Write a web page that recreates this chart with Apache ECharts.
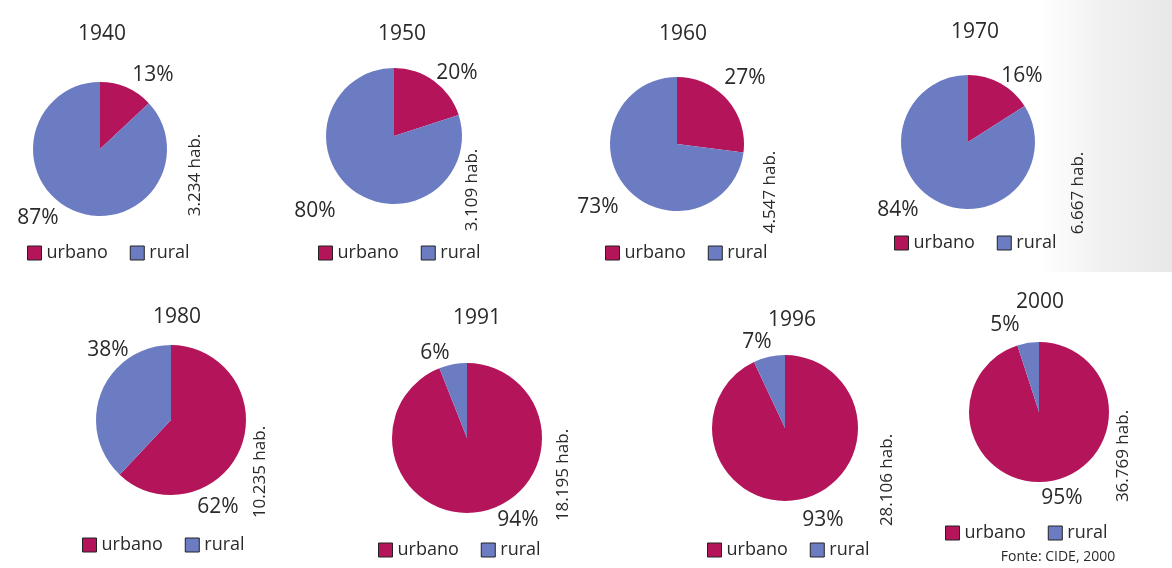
<!DOCTYPE html>
<html>
<head>
    <meta charset="utf-8">
    <title>População urbana e rural</title>
    <script src="https://cdn.jsdelivr.net/npm/echarts@6/dist/echarts.min.js"></script>
    <style>
        html, body { margin: 0; padding: 0; background: #fff; }
        #main { width: 1172px; height: 568px; }
    </style>
</head>
<body>
<div id="main"></div>
<script>
    // dados
    var anos = ['1940', '1950', '1960', '1970', '1980', '1991', '1996', '2000'];
    var urbano = [13, 20, 27, 16, 62, 94, 93, 95];
    var rural = [87, 80, 73, 84, 38, 6, 7, 5];
    var totais = ['3.234 hab.', '3.109 hab.', '4.547 hab.', '6.667 hab.', '10.235 hab.', '18.195 hab.', '28.106 hab.', '36.769 hab.'];
    var categorias = ['urbano', 'rural'];

    // layout (px)
    var centros = [[100, 149], [394, 136], [677, 144], [968, 142], [171, 420], [467, 438], [785, 428], [1039, 412]];
    var raios = [67, 68, 67, 67, 75, 75, 73, 70];
    var posTitulo = [[97, 32], [397, 32], [678, 32], [970, 30], [172, 315], [472, 316], [787, 318], [1035, 300]];
    var posUrb = [[153, 75], [457, 73], [745, 78], [1022, 76], [218, 507], [518, 520], [823, 520], [1062, 498]];
    var posRur = [[38, 218], [315, 211], [598, 207], [898, 210], [108, 350], [435, 353], [757, 342], [1005, 325]];
    var posLegenda = [[22, 248], [313, 248], [600, 248], [889, 238], [77, 540], [373, 545], [702, 545], [940, 528]];
    var posTotal = [[195, 175], [472, 190], [770, 192], [1078, 193], [260, 472], [563, 475], [887, 480], [1123, 456]];

    var cores = ['#b3145a', '#6c7cc2'];
    var fonte = '"Open Sans", "DejaVu Sans", sans-serif';

    var myChart = echarts.init(document.getElementById('main'));

    var titulos = [], legendas = [], series = [], graficos = [];

    // fundo cinza do scan (canto superior direito)
    graficos.push({
        type: 'rect', silent: true, z: -10,
        shape: {x: 1040, y: 0, width: 132, height: 272},
        style: {
            fill: new echarts.graphic.LinearGradient(0, 0, 1, 0, [
                {offset: 0, color: 'rgba(236,236,236,0)'},
                {offset: 0.5, color: 'rgba(236,236,236,0.8)'},
                {offset: 1, color: 'rgba(232,232,232,1)'}
            ])
        }
    });

    for (var i = 0; i < anos.length; i++) {
        titulos.push({
            text: anos[i],
            left: posTitulo[i][0],
            top: posTitulo[i][1] - 13,
            textAlign: 'center',
            textStyle: {fontFamily: fonte, fontSize: 21, fontWeight: 'normal', color: '#2a2a2a'}
        });

        legendas.push({
            data: categorias,
            left: posLegenda[i][0],
            top: posLegenda[i][1] - 9,
            icon: 'rect',
            itemWidth: 14,
            itemHeight: 14,
            itemGap: 22,
            selectedMode: false,
            itemStyle: {borderColor: '#222', borderWidth: 1},
            textStyle: {fontFamily: fonte, fontSize: 18, color: '#2a2a2a'}
        });

        (function (idx) {
            series.push({
                type: 'pie',
                name: anos[idx],
                center: centros[idx],
                radius: raios[idx],
                startAngle: 90,
                clockwise: true,
                silent: true,
                animation: false,
                data: [
                    {name: categorias[0], value: urbano[idx], itemStyle: {color: cores[0]}},
                    {name: categorias[1], value: rural[idx], itemStyle: {color: cores[1]}}
                ],
                label: {
                    show: true,
                    position: 'outside',
                    formatter: '{c}%',
                    overflow: 'none',
                    fontFamily: fonte,
                    fontSize: 21,
                    color: '#2a2a2a'
                },
                labelLine: {show: false},
                labelLayout: function (params) {
                    var p = params.dataIndex === 0 ? posUrb[idx] : posRur[idx];
                    return {x: p[0], y: p[1], align: 'center', verticalAlign: 'middle'};
                }
            });
        })(i);

        graficos.push({
            type: 'text',
            x: posTotal[i][0],
            y: posTotal[i][1],
            rotation: Math.PI / 2,
            style: {
                text: totais[i],
                font: '17px ' + fonte,
                fill: '#2a2a2a',
                textAlign: 'center',
                textVerticalAlign: 'middle'
            }
        });
    }

    graficos.push({
        type: 'text',
        x: 1058,
        y: 557,
        style: {
            text: 'Fonte: CIDE, 2000',
            font: '14px ' + fonte,
            fill: '#2a2a2a',
            textAlign: 'center',
            textVerticalAlign: 'middle'
        }
    });

    myChart.setOption({
        backgroundColor: '#ffffff',
        animation: false,
        title: titulos,
        legend: legendas,
        graphic: graficos,
        series: series
    });
</script>
</body>
</html>
